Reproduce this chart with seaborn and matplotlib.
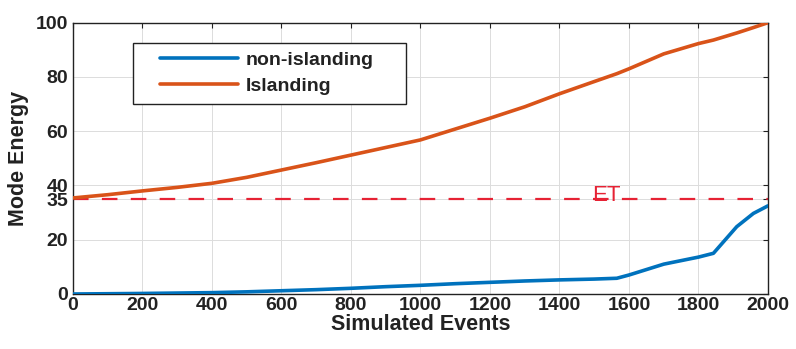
import matplotlib
matplotlib.use("Agg")
import matplotlib.pyplot as plt
from matplotlib.patches import Rectangle
import numpy as np
import pandas as pd
import seaborn as sns

# Simulated event index and mode energy of each class
events = [0, 100, 200, 300, 400, 500, 600, 700, 800, 900, 1000, 1100, 1200,
          1300, 1400, 1500, 1565, 1600, 1700, 1800, 1843, 1910, 1958, 2000]
non_islanding = [0.0, 0.1, 0.2, 0.35, 0.5, 0.8, 1.2, 1.6, 2.1, 2.7, 3.2, 3.8, 4.3,
                 4.8, 5.2, 5.5, 5.8, 7.0, 11.0, 13.6, 15.0, 24.8, 29.7, 32.5]
islanding = [35.4, 36.6, 38.0, 39.3, 40.8, 43.0, 45.7, 48.4, 51.2, 54.0, 56.8, 60.8, 64.8,
             69.0, 73.8, 78.3, 81.2, 83.0, 88.5, 92.3, 93.6, 96.2, 98.2, 100.0]
threshold = 35
threshold_label = "ET"

series_names = ["non-islanding", "Islanding"]
series_colors = ["#0072BD", "#D95319"]
x_ticks = [0, 200, 400, 600, 800, 1000, 1200, 1400, 1600, 1800, 2000]
y_ticks = [0, 20, 35, 40, 60, 80, 100]

df = pd.concat([
    pd.DataFrame({"Simulated Events": events, "Mode Energy": non_islanding, "class": series_names[0]}),
    pd.DataFrame({"Simulated Events": events, "Mode Energy": islanding, "class": series_names[1]}),
], ignore_index=True)

sns.set_theme(style="whitegrid")
plt.rcParams["font.family"] = ["Liberation Sans", "DejaVu Sans"]

fig = plt.figure(figsize=(7.96, 3.49), dpi=100)
ax = fig.add_axes([0.0917, 0.1576, 0.8731, 0.7774])

sns.lineplot(data=df, x="Simulated Events", y="Mode Energy", hue="class",
             hue_order=series_names, palette=series_colors, linewidth=2.6,
             ax=ax, legend=False, zorder=3)

# energy threshold
ax.axhline(threshold, color="#E62234", linewidth=1.6, dashes=(7.0, 6.0), zorder=2.5)
ax.text(1494, threshold - 0.9, threshold_label, color="#E62234", fontsize=16,
        va="baseline", ha="left", zorder=4)

ax.set_xlim(0, 2000)
ax.set_ylim(0, 100)
ax.set_xticks(x_ticks)
ax.set_yticks(y_ticks)
ax.set_facecolor("white")
ax.grid(True, color="#dcdcdc", linewidth=0.7)
for s in ax.spines.values():
    s.set_color("#222222")
    s.set_linewidth(1.0)
    s.set_visible(True)

ax.tick_params(direction="in", length=3.5, width=0.8, color="#222222",
               top=True, right=True, labelsize=14, labelcolor="#222222")
ax.tick_params(axis="x", pad=2.5)
ax.tick_params(axis="y", pad=3.5)
for lbl in ax.get_xticklabels() + ax.get_yticklabels():
    lbl.set_fontweight("bold")

ax.set_xlabel("Simulated Events", fontsize=15.5, fontweight="bold", color="#222222", labelpad=0)
ax.set_ylabel("Mode Energy", fontsize=15.5, fontweight="bold", color="#222222", labelpad=5)

# legend with a boxed frame
box = Rectangle((0.0863, 0.700), 0.3928, 0.225, transform=ax.transAxes,
                facecolor="white", edgecolor="#222222", linewidth=1.0, zorder=4.5)
ax.add_patch(box)
handles = [plt.Line2D([], [], color=c, linewidth=2.6) for c in series_colors]
leg = ax.legend(handles, series_names, loc="center left", bbox_to_anchor=(0.125, 0.8146),
                frameon=False, borderpad=0, borderaxespad=0, handlelength=4.0,
                handletextpad=0.4, labelspacing=0.45,
                prop={"family": "Liberation Sans", "weight": "bold", "size": 14})
leg.set_zorder(5)
for t in leg.get_texts():
    t.set_color("#222222")

fig.savefig("out.png", dpi=100)
